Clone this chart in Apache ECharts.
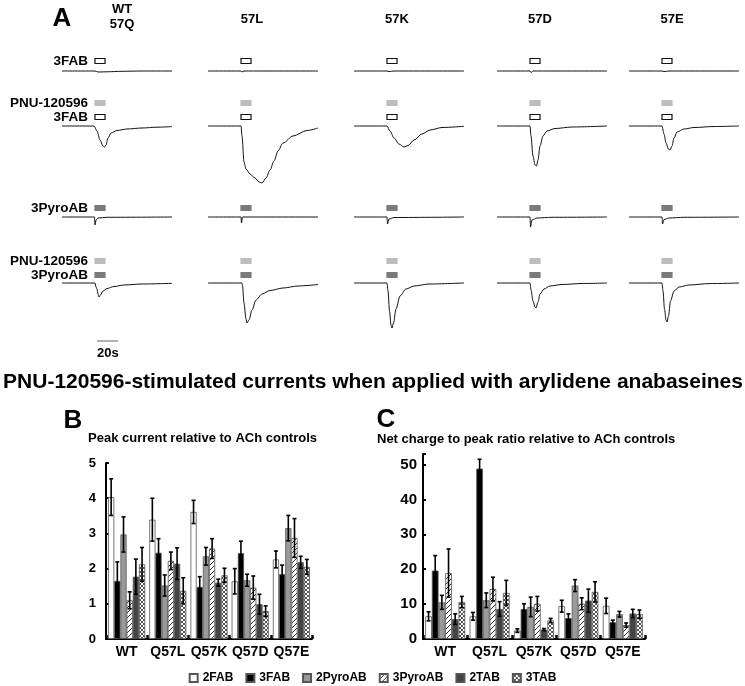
<!DOCTYPE html>
<html>
<head>
<meta charset="utf-8">
<script src="https://cdn.jsdelivr.net/npm/echarts@6/dist/echarts.min.js"></script>
<style>
  html, body { margin: 0; padding: 0; background: #fff; }
  #chart { width: 745px; height: 686px; }
</style>
</head>
<body>
<div id="chart"></div>
<script>
// ---- data ----
var mutants = ['WT', 'Q57L', 'Q57K', 'Q57D', 'Q57E'];
var compounds = ['2FAB', '3FAB', '2PyroAB', '3PyroAB', '2TAB', '3TAB'];

// B: peak current relative to ACh controls (one array per compound, order = mutants)
var peak2FAB = [4.03, 3.39, 3.61, 1.64, 2.26];
var peak3FAB = [1.65, 2.45, 1.48, 2.44, 1.84];
var peak2PyroAB = [2.97, 1.52, 2.35, 1.67, 3.15];
var peak3PyroAB = [1.10, 2.22, 2.57, 1.46, 2.87];
var peak2TAB = [1.77, 2.14, 1.60, 0.99, 2.18];
var peak3TAB = [2.12, 1.37, 1.81, 0.79, 2.05];
var peakErr = [
  [0.52, 0.61, 0.33, 0.36, 0.24],
  [0.54, 0.40, 0.29, 0.34, 0.26],
  [0.50, 0.30, 0.25, 0.17, 0.36],
  [0.24, 0.25, 0.28, 0.33, 0.55],
  [0.50, 0.45, 0.10, 0.28, 0.17],
  [0.48, 0.37, 0.20, 0.15, 0.21]
];

// C: net charge to peak ratio relative to ACh controls
var net2FAB = [6.5, 6.5, 2.4, 9.4, 9.5];
var net3FAB = [19.6, 48.8, 8.6, 6.0, 4.8];
var net2PyroAB = [10.5, 11.1, 9.2, 15.3, 7.1];
var net3PyroAB = [18.9, 14.3, 10.1, 10.1, 4.0];
var net2TAB = [5.7, 8.6, 2.7, 11.0, 7.3];
var net3TAB = [10.6, 13.2, 5.3, 13.5, 7.1];
var netErr = [
  [1.3, 1.1, 0.5, 1.7, 2.2],
  [4.3, 2.7, 1.5, 1.2, 0.6],
  [2.0, 2.1, 2.8, 1.7, 0.8],
  [6.9, 3.4, 2.1, 1.7, 0.6],
  [1.5, 2.1, 0.3, 3.3, 1.2],
  [1.6, 3.6, 0.6, 2.9, 1.2]
];

// A: current traces [time s, current], one per column (WT 57Q, 57L, 57K, 57D, 57E)
var traces3FAB = [
  [[0, 0], [33, 0], [36, -1], [45, -0.8], [60, -0.3], [80, 0], [110, 0]],
  [[0, 0], [33, 0], [34, -1], [36, 0], [110, 0]],
  [[0, 0], [33, 0], [35, -0.5], [40, 0], [110, 0]],
  [[0, 0], [33, 0], [34, -1.5], [36, 0], [110, 0]],
  [[0, 0], [33, 0], [35, -0.5], [40, 0], [110, 0]]
];
var tracesPnu3FAB = [
  [[0, 0], [32, 0], [35, -5], [38, -14], [41, -20], [42.5, -21], [44, -19], [46, -12], [49, -7], [55, -4.5], [65, -3], [80, -2], [95, -1.2], [110, -0.6]],
  [[0, 0], [33, 0], [34, -10], [36, -36], [38, -43], [42, -48], [47, -52], [51, -56], [54, -57], [58, -52], [62, -44], [66, -35], [70, -25], [75, -17], [85, -10], [99, -4.5], [110, -2]],
  [[0, 0], [33, 0], [36, -5], [40, -12], [45, -18], [50, -21], [54, -19.5], [60, -14], [68, -8], [76, -4], [88, -1.5], [110, -0.3]],
  [[0, 0], [33, 0], [34, -10], [36, -30], [38, -39], [39.5, -40], [41, -34], [43, -20], [46, -10], [50, -5], [58, -2.5], [75, -1], [110, 0]],
  [[0, 0], [33, 0], [35, -8], [37, -17], [39.5, -23], [41, -24], [43, -20], [45, -12], [48, -6], [55, -3], [65, -1.5], [85, -0.5], [110, 0]]
];
var traces3PyroAB = [
  [[0, 0], [32.5, 0], [33, -8], [34, -3], [36, -1], [45, -0.3], [110, 0]],
  [[0, 0], [33, 0], [33.5, -6], [34.5, 0], [110, 0]],
  [[0, 0], [33, 0], [33.5, -7], [35, -2], [40, -0.5], [110, 0]],
  [[0, 0], [33, 0], [33.5, -10], [35, -3], [40, -1], [55, -0.3], [110, 0]],
  [[0, 0], [33, 0], [33.5, -7], [35, -2.5], [40, -1], [55, -0.3], [110, 0]]
];
var tracesPnu3PyroAB = [
  [[0, 0], [33, 0], [34, -4], [35, -6], [36, -11], [37, -14], [38.5, -12], [41, -8], [45, -5.5], [52, -3.5], [62, -2], [80, -1], [110, -0.3]],
  [[0, 0], [34, 0], [34.5, -3], [36, -20], [38, -36], [39, -40], [41, -37], [44, -27], [48, -17], [54, -11], [62, -7.5], [75, -5], [90, -3], [110, -1.5]],
  [[0, 0], [33, 0], [34, -8], [35.5, -28], [37, -42], [38, -45], [39.5, -40], [42, -26], [46, -13], [52, -6], [60, -3], [75, -1], [110, 0]],
  [[0, 0], [33, 0], [34, -7], [36, -18], [38, -24], [39, -25], [41, -19], [43, -11], [47, -6], [53, -3], [65, -1.5], [85, -0.5], [110, 0]],
  [[0, 0], [33, 0], [34, -8], [35.5, -26], [37, -37], [38, -39], [39.5, -33], [41.5, -18], [45, -8], [50, -4], [60, -2], [80, -0.6], [110, 0]]
];
var applicationWindow = [33, 43]; // drug application, s
var rowDrugs = [['3FAB'], ['PNU-120596', '3FAB'], ['3PyroAB'], ['PNU-120596', '3PyroAB']];
var columnTitles = ['57L', '57K', '57D', '57E'];

// ---- layout ----
var FONT = '"Liberation Sans", Arial, sans-serif';
var colLefts = [62, 208, 354, 497, 629];
var rowBaselines = [71, 126, 217, 283];
var markerLevels = [[10], [23, 9], [9], [22, 8]];
var drugFill = { '3FAB': '#fff', '3PyroAB': '#7a7a7a', 'PNU-120596': '#bdbdbd' };
var drugStroke = { '3FAB': '#111', '3PyroAB': '#7a7a7a', 'PNU-120596': '#bdbdbd' };

function hatchPattern(cross) {
  var s = cross ? 4 : 5;
  var cv = document.createElement('canvas');
  cv.width = s; cv.height = s;
  var ctx = cv.getContext('2d');
  ctx.fillStyle = '#fff';
  ctx.fillRect(0, 0, s, s);
  ctx.strokeStyle = cross ? '#555' : '#333';
  ctx.lineWidth = 1;
  ctx.beginPath();
  ctx.moveTo(0, s); ctx.lineTo(s, 0);
  ctx.moveTo(-1, 1); ctx.lineTo(1, -1);
  ctx.moveTo(s - 1, s + 1); ctx.lineTo(s + 1, s - 1);
  if (cross) {
    ctx.moveTo(0, 0); ctx.lineTo(s, s);
    ctx.moveTo(-1, s - 1); ctx.lineTo(1, s + 1);
    ctx.moveTo(s - 1, -1); ctx.lineTo(s + 1, 1);
  }
  ctx.stroke();
  return { image: cv, repeat: 'repeat' };
}
var barFills = ['#ffffff', '#000000', '#9a9a9a', hatchPattern(false), '#444444', hatchPattern(true)];

var chart = echarts.init(document.getElementById('chart'));

var grids = [], xAxes = [], yAxes = [], series = [];
var traceRows = [traces3FAB, tracesPnu3FAB, traces3PyroAB, tracesPnu3PyroAB];
var gi = 0;

function drugRenderer(r) {
  return function (params, api) {
    var d = rowDrugs[r][api.value(3)];
    var p0 = api.coord([api.value(0), api.value(2)]);
    var p1 = api.coord([api.value(1), api.value(2)]);
    return {
      type: 'rect',
      shape: { x: p0[0], y: p0[1] - 2.5, width: p1[0] - p0[0], height: 5 },
      style: { fill: drugFill[d], stroke: drugStroke[d], lineWidth: 1.2 }
    };
  };
}

traceRows.forEach(function (row, r) {
  row.forEach(function (trace, c) {
    grids.push({ left: colLefts[c], top: rowBaselines[r] - 30, width: 110, height: 90 });
    xAxes.push({ type: 'value', gridIndex: gi, min: 0, max: 110, show: false });
    yAxes.push({ type: 'value', gridIndex: gi, min: -60, max: 30, show: false });
    series.push({
      type: 'line', xAxisIndex: gi, yAxisIndex: gi, data: trace,
      showSymbol: false, smooth: 0.3, smoothMonotone: 'x', clip: false, silent: true,
      lineStyle: { color: '#111', width: 1 }
    });
    series.push({
      type: 'custom', xAxisIndex: gi, yAxisIndex: gi, silent: true, clip: false,
      encode: { x: [0, 1], y: 2 },
      data: rowDrugs[r].map(function (d, k) {
        return [applicationWindow[0], applicationWindow[1], markerLevels[r][k], k];
      }),
      renderItem: drugRenderer(r)
    });
    gi++;
  });
});

// bar panels B and C
var gB = gi, gC = gi + 1;
grids.push({ left: 106, top: 463, width: 206, height: 176 });
grids.push({ left: 423, top: 454, width: 222, height: 185 });

function catAxis(idx) {
  return {
    type: 'category', gridIndex: idx, data: mutants,
    axisLine: { lineStyle: { color: '#000', width: 2 } },
    axisTick: { show: true, inside: true, length: 4, lineStyle: { color: '#000', width: 2.5 } },
    axisLabel: { color: '#000', fontWeight: 'bold', fontSize: 14, fontFamily: FONT, margin: 6, interval: 0 }
  };
}
xAxes.push(catAxis(gB), catAxis(gC));
yAxes.push({
  type: 'value', gridIndex: gB, min: 0, max: 5, interval: 1,
  axisLine: { show: true, lineStyle: { color: '#000', width: 2 } },
  axisTick: { show: true, inside: true, length: 3, lineStyle: { color: '#000', width: 2 } },
  axisLabel: { color: '#000', fontWeight: 'bold', fontSize: 13, fontFamily: FONT, margin: 10 },
  splitLine: { show: false }
});
yAxes.push({
  type: 'value', gridIndex: gC, min: 0, max: 53, interval: 10,
  axisLine: { show: true, lineStyle: { color: '#000', width: 2 } },
  axisTick: { show: true, inside: true, length: 3, lineStyle: { color: '#000', width: 2 } },
  axisLabel: {
    color: '#000', fontWeight: 'bold', fontSize: 15, fontFamily: FONT, margin: 6,
    formatter: function (v) { return v % 10 === 0 ? v : ''; }
  },
  splitLine: { show: false }
});

var peakValues = [peak2FAB, peak3FAB, peak2PyroAB, peak3PyroAB, peak2TAB, peak3TAB];
var netValues = [net2FAB, net3FAB, net2PyroAB, net3PyroAB, net2TAB, net3TAB];

function errorBarItem(params, api) {
  var cat = api.value(0), k = api.value(1), v = api.value(2), e = api.value(3);
  var band = api.size([1, 0])[0];
  var bw = band * 0.9 / compounds.length;
  var x = api.coord([cat, v])[0] - band * 0.45 + bw * (k + 0.5);
  var yt = api.coord([cat, v + e])[1];
  var yb = api.coord([cat, Math.max(v - e, 0)])[1];
  var st = { stroke: '#000', lineWidth: 1.6 };
  return {
    type: 'group', children: [
      { type: 'line', shape: { x1: x, y1: yt, x2: x, y2: yb }, style: st },
      { type: 'line', shape: { x1: x - 2, y1: yt, x2: x + 2, y2: yt }, style: st },
      { type: 'line', shape: { x1: x - 2, y1: yb, x2: x + 2, y2: yb }, style: st }
    ]
  };
}

[[gB, peakValues, peakErr], [gC, netValues, netErr]].forEach(function (p) {
  var idx = p[0], vals = p[1], errs = p[2];
  var errData = [];
  compounds.forEach(function (name, k) {
    series.push({
      type: 'bar', name: name, xAxisIndex: idx, yAxisIndex: idx, data: vals[k],
      barGap: '0%', barCategoryGap: '10%',
      itemStyle: { color: barFills[k], borderColor: '#555', borderWidth: 0.8 }
    });
    vals[k].forEach(function (v, m) { errData.push([m, k, v, errs[k][m]]); });
  });
  series.push({
    type: 'custom', xAxisIndex: idx, yAxisIndex: idx, silent: true, z: 5,
    encode: { x: 0, y: 2 }, data: errData, renderItem: errorBarItem
  });
});

// text
function txt(s, x, y, size, align) {
  var st = { text: s, fill: '#000', font: 'bold ' + size + 'px ' + FONT, textAlign: align || 'left', textVerticalAlign: 'middle' };
  return { type: 'text', x: x, y: y, silent: true, style: st };
}
var graphics = [
  txt('A', 62, 19, 26, 'center'),
  txt('WT', 122, 9, 13, 'center'),
  txt('57Q', 122, 24, 13, 'center'),
  txt('3FAB', 88, 61, 13.5, 'right'),
  txt('PNU-120596', 88, 103, 13.5, 'right'),
  txt('3FAB', 88, 117, 13.5, 'right'),
  txt('3PyroAB', 88, 208, 13.5, 'right'),
  txt('PNU-120596', 88, 261, 13.5, 'right'),
  txt('3PyroAB', 88, 275, 13.5, 'right'),
  txt('20s', 97, 353, 13, 'left'),
  { type: 'line', silent: true, shape: { x1: 97, y1: 341, x2: 118, y2: 341 }, style: { stroke: '#999', lineWidth: 1.5 } },
  txt('PNU-120596-stimulated currents when applied with arylidene anabaseines', 373, 382, 21, 'center'),
  txt('B', 73, 421, 26, 'center'),
  txt('Peak current relative to ACh controls', 88, 438, 13, 'left'),
  txt('C', 386, 420, 26, 'center'),
  txt('Net charge to peak ratio relative to ACh controls', 377, 439, 13, 'left')
];
var titleX = [252, 397, 540, 672];
columnTitles.forEach(function (t, i) { graphics.push(txt(t, titleX[i], 19, 13, 'center')); });

chart.setOption({
  backgroundColor: '#fff',
  animation: false,
  grid: grids,
  xAxis: xAxes,
  yAxis: yAxes,
  legend: {
    data: compounds, left: 'center', top: 667,
    itemWidth: 8, itemHeight: 8, itemGap: 12, icon: 'rect',
    textStyle: { color: '#000', fontWeight: 'bold', fontSize: 12, fontFamily: FONT }
  },
  graphic: graphics,
  series: series
});
</script>
</body>
</html>
